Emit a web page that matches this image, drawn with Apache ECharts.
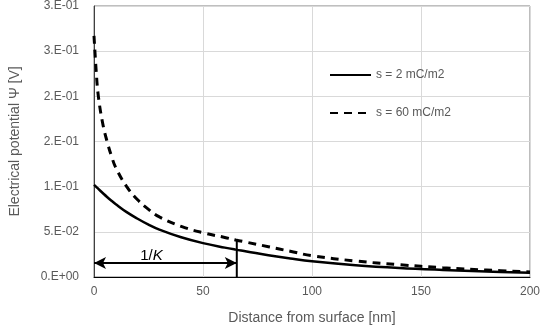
<!DOCTYPE html>
<html>
<head>
<meta charset="utf-8">
<script src="https://cdn.jsdelivr.net/npm/echarts@6/dist/echarts.min.js"></script>
<style>
html,body{margin:0;padding:0;background:#fff;}
#chart{width:543px;height:333px;}
</style>
</head>
<body>
<div id="chart"></div>
<script>
// ---- data ----
var distances = [0, 1, 2, 4, 6, 8, 10, 15, 20, 25, 30, 40, 50, 60, 65, 70, 80, 90, 100, 120, 140, 160, 180, 200];
var psiLowCharge = [0.102, 0.0998, 0.0975, 0.0930, 0.0886, 0.0845, 0.0806, 0.0718, 0.0645, 0.0580, 0.0525, 0.0440, 0.0375, 0.0325, 0.0303, 0.0283, 0.0240, 0.0205, 0.0174, 0.0131, 0.0100, 0.0078, 0.0060, 0.0047];
var psiHighCharge = [0.267, 0.228, 0.200, 0.170, 0.150, 0.134, 0.121, 0.100, 0.0855, 0.0748, 0.0665, 0.0560, 0.0490, 0.0438, 0.0410, 0.0385, 0.0335, 0.0285, 0.0235, 0.0177, 0.0136, 0.0103, 0.0077, 0.0056];
var seriesNames = ['s = 2 mC/m2', 's = 60 mC/m2'];
var debyeLength = 65.5;
var debyeLineTop = 0.041;
var arrowLevel = 0.0155;
var yTickLabels = ['0.E+00', '5.E-02', '1.E-01', '2.E-01', '2.E-01', '3.E-01', '3.E-01'];
var xAxisTitle = 'Distance from surface [nm]';
var yAxisTitle = 'Electrical potential \u03A8 [V]';

var font = 'Liberation Sans';
var grey = '#595959';

function pairs(xs, ys) { return xs.map(function (x, i) { return [x, ys[i]]; }); }

var chart = echarts.init(document.getElementById('chart'), null, {renderer: 'canvas'});
chart.setOption({
  animation: false,
  backgroundColor: '#fff',
  textStyle: {fontFamily: font},
  grid: {left: 91, right: 10, top: 5, bottom: 56, show: true, borderColor: '#7f7f7f', borderWidth: 1, containLabel: false},
  legend: {
    data: seriesNames,
    orient: 'vertical',
    left: 324,
    top: 64,
    itemWidth: 41,
    itemHeight: 12,
    itemGap: 26,
    itemStyle: {opacity: 0},
    textStyle: {color: grey, fontSize: 12, fontFamily: font},
    selectedMode: false
  },
  xAxis: {
    type: 'value', min: 0, max: 200, interval: 50,
    name: xAxisTitle, nameLocation: 'middle', nameGap: 34,
    nameTextStyle: {color: grey, fontSize: 14, fontFamily: font},
    axisLine: {show: true, onZero: false, lineStyle: {color: '#000', width: 1}},
    axisTick: {show: false},
    axisLabel: {color: grey, fontSize: 12, margin: 9, fontFamily: font},
    splitLine: {show: true, lineStyle: {color: '#d9d9d9', width: 1}}
  },
  yAxis: {
    type: 'value', min: 0, max: 0.3, interval: 0.05,
    name: yAxisTitle, nameLocation: 'middle', nameGap: 72,
    nameTextStyle: {color: grey, fontSize: 14, fontFamily: font},
    axisLine: {show: true, lineStyle: {color: '#404040', width: 1}},
    axisTick: {show: false},
    axisLabel: {color: grey, fontSize: 12, margin: 15, fontFamily: font,
      formatter: function (v, i) { return yTickLabels[i]; }},
    splitLine: {show: true, lineStyle: {color: '#d9d9d9', width: 1}}
  },
  series: [
    {
      name: seriesNames[0], type: 'line', smooth: 0.4, showSymbol: false, symbol: 'none',
      data: pairs(distances, psiLowCharge),
      lineStyle: {color: '#000', width: 2.5, type: 'solid'},
      itemStyle: {color: '#000'},
      z: 3
    },
    {
      name: seriesNames[1], type: 'line', smooth: 0.4, showSymbol: false, symbol: 'none',
      data: pairs(distances, psiHighCharge),
      lineStyle: {color: '#000', width: 3, type: [8, 6]},
      itemStyle: {color: '#000'},
      z: 3
    },
    {
      name: 'debye', type: 'line', symbol: 'none', silent: true,
      data: [[debyeLength, 0], [debyeLength, debyeLineTop]],
      lineStyle: {color: '#000', width: 2},
      z: 4,
      markLine: {
        silent: true,
        symbol: ['arrow', 'arrow'],
        symbolSize: [9, 12],
        lineStyle: {color: '#000', width: 2, type: 'solid'},
        label: {
          show: true, position: 'middle', distance: 0, offset: [-14, 0],
          formatter: '1/{i|K}',
          color: '#000', fontSize: 15, fontFamily: font,
          rich: {i: {fontStyle: 'italic', fontSize: 15, color: '#000', fontFamily: font}}
        },
        data: [[{coord: [0, arrowLevel]}, {coord: [debyeLength, arrowLevel]}]]
      }
    }
  ]
});
</script>
</body>
</html>
